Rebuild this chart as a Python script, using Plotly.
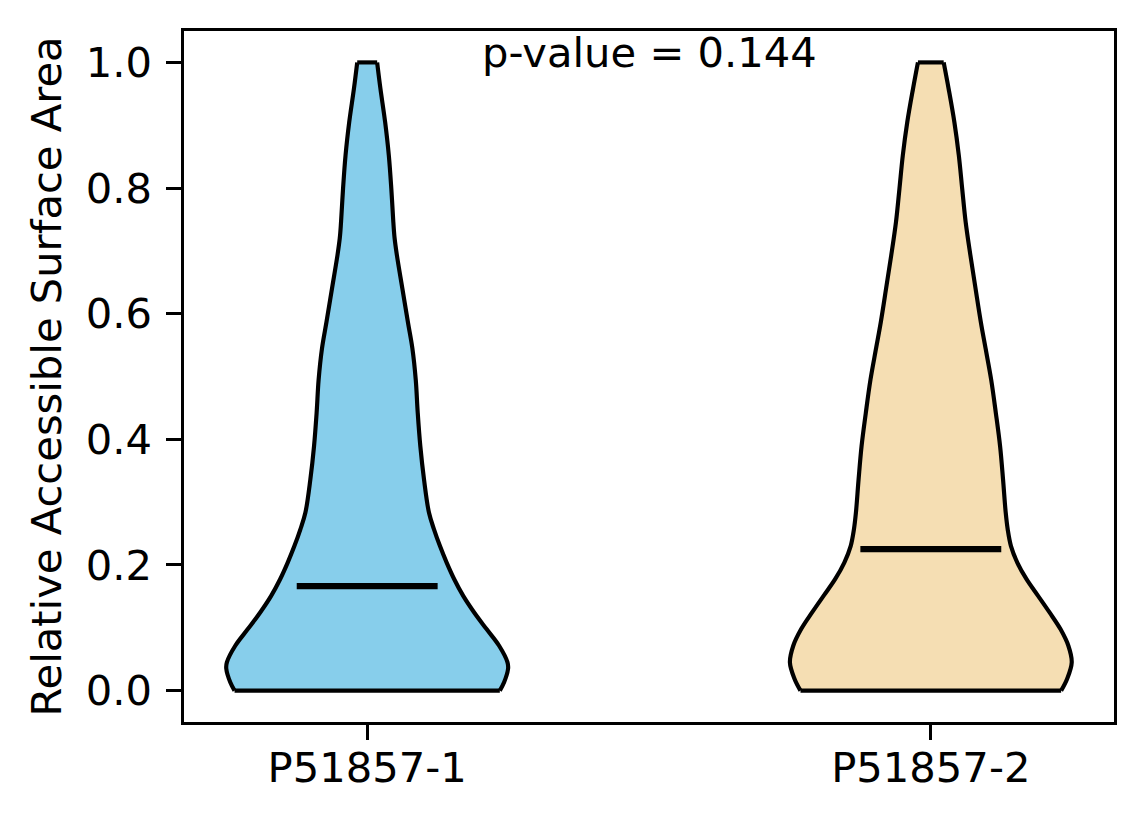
import plotly.graph_objects as go

# ---- data ----
categories = ["P51857-1", "P51857-2"]
positions = [1, 2]
colors = ["#87CEEB", "#F5DEB3"]
medians = [0.1665, 0.2252]
p_value_text = "p-value = 0.144"

# estimated KDE profile (relative density) at given RSA levels
v1_y = [0.000, 0.0133, 0.035, 0.045, 0.0714, 0.0979, 0.1244, 0.1508, 0.1773, 0.2038,
        0.230, 0.2567, 0.283, 0.336, 0.389, 0.442, 0.4948, 0.545, 0.587, 0.640,
        0.693, 0.720, 0.746, 0.799, 0.852, 0.905, 0.958, 1.000]
v1_d = [133, 137.3, 141.3, 140.7, 132.3, 119.7, 107.3, 96.3, 87.3, 79.7,
        73, 67, 62, 57, 53.3, 50.7, 48.7, 45.3, 40.8, 35.3,
        29.8, 27.5, 26.2, 24.2, 21.7, 18, 13.3, 10]

v2_y = [0.000, 0.0186, 0.045, 0.0714, 0.0979, 0.1244, 0.1508, 0.1773, 0.2038, 0.230,
        0.2567, 0.283, 0.336, 0.389, 0.442, 0.4948, 0.545, 0.587, 0.640, 0.693,
        0.746, 0.799, 0.852, 0.905, 0.958, 1.000]
v2_d = [131.7, 137.7, 142.4, 139, 131, 120, 108.4, 96.7, 87.4, 81,
        77.7, 75.7, 73, 70, 65.7, 61, 55.3, 50.5, 45.2, 40,
        35.2, 31.7, 28.3, 23.8, 18, 13]

ytick_vals = [0.0, 0.2, 0.4, 0.6, 0.8, 1.0]

# ---- figure ----
PT = 300 / 72.0  # px per pt
FONT = dict(family="DejaVu Sans", size=10 * PT, color="black")
HALF = 0.25

fig = go.Figure()
for pos, ys, ds, col in zip(positions, [v1_y, v2_y], [v1_d, v2_d], colors):
    m = max(ds)
    w = [d / m * HALF for d in ds]
    left = [pos - wi for wi in w]
    right = [pos + wi for wi in w]
    fig.add_trace(go.Scatter(x=left, y=ys, mode="lines",
                             line=dict(color="black", width=1.0 * PT, shape="spline", smoothing=1.0),
                             hoverinfo="skip", showlegend=False))
    fig.add_trace(go.Scatter(x=right, y=ys, mode="lines", fill="tonextx", fillcolor=col,
                             line=dict(color="black", width=1.0 * PT, shape="spline", smoothing=1.0),
                             hoverinfo="skip", showlegend=False))
    fig.add_trace(go.Scatter(x=[left[0], right[0], None, left[-1], right[-1]],
                             y=[ys[0], ys[0], None, ys[-1], ys[-1]], mode="lines",
                             line=dict(color="black", width=1.0 * PT),
                             hoverinfo="skip", showlegend=False))

# medians
for pos, med in zip(positions, medians):
    fig.add_trace(go.Scatter(x=[pos - HALF / 2, pos + HALF / 2], y=[med, med], mode="lines",
                             line=dict(color="black", width=1.5 * PT),
                             hoverinfo="skip", showlegend=False))

fig.add_annotation(x=1.5, y=1.016, xref="x", yref="y", text=p_value_text, showarrow=False,
                   xanchor="center", yanchor="middle", font=FONT)

axis_common = dict(showline=True, linecolor="black", linewidth=0.8 * PT, mirror=True,
                   showgrid=False, zeroline=False, ticks="outside", ticklen=3.5 * PT,
                   tickwidth=0.8 * PT, tickcolor="black", tickfont=FONT)

fig.update_xaxes(range=[0.675, 2.325], tickvals=positions, ticktext=categories,
                 ticklabelstandoff=-8, **axis_common)
fig.update_yaxes(range=[-0.05, 1.05], tickvals=ytick_vals,
                 ticktext=[f"{v:.1f}" for v in ytick_vals], ticklabelstandoff=6,
                 title=dict(text="Relative Accessible Surface Area", font=FONT, standoff=12),
                 **axis_common)

# page body has an 8px margin, compensate so the plot area lands where the reference has it
fig.update_layout(width=1144, height=824, autosize=False,
                  margin=dict(l=175.5, r=38, t=22.5, b=109.7, pad=0),
                  plot_bgcolor="white", paper_bgcolor="white", font=FONT)

fig.write_html("out.html")
